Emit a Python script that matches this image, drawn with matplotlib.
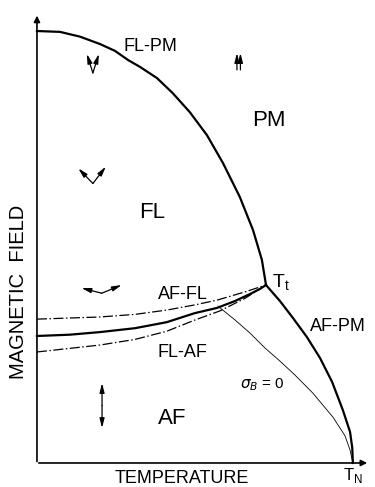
import matplotlib.pyplot as plt

# Phase diagram in reduced units: T / T_N on x, H / H_c(0) on y

# FL-PM boundary (from H axis down to the tricritical point T_t)
flpm_t = [0.0, 0.073, 0.136, 0.199, 0.247, 0.288, 0.326, 0.380, 0.430, 0.484,
          0.538, 0.589, 0.642, 0.684, 0.712, 0.725]
flpm_h = [1.0, 0.998, 0.987, 0.970, 0.954, 0.933, 0.917, 0.891, 0.856, 0.812,
          0.759, 0.694, 0.616, 0.539, 0.470, 0.412]

# AF-PM boundary (T_t down to T_N)
afpm_t = [0.725, 0.769, 0.810, 0.854, 0.896, 0.934, 0.968, 0.991, 0.998, 1.0]
afpm_h = [0.412, 0.375, 0.336, 0.292, 0.243, 0.188, 0.123, 0.072, 0.035, 0.0]

# first-order AF-FL line
affl_t = [0.0, 0.104, 0.199, 0.310, 0.411, 0.500, 0.570, 0.627, 0.674, 0.706, 0.725]
affl_h = [0.294, 0.297, 0.303, 0.312, 0.326, 0.347, 0.359, 0.375, 0.391, 0.403, 0.412]

# metastability limits
up_t = [0.0, 0.199, 0.310, 0.411, 0.500, 0.570, 0.658, 0.725]
up_h = [0.333, 0.338, 0.344, 0.354, 0.366, 0.377, 0.396, 0.412]
lo_t = [0.0, 0.199, 0.310, 0.411, 0.500, 0.579, 0.658, 0.725]
lo_h = [0.257, 0.273, 0.286, 0.305, 0.331, 0.352, 0.381, 0.412]

# sigma_B = 0 line
sb_t = [0.573, 0.627, 0.674, 0.722, 0.769, 0.816, 0.873, 0.937, 0.975, 0.991, 1.0]
sb_h = [0.363, 0.331, 0.301, 0.266, 0.236, 0.204, 0.162, 0.106, 0.063, 0.030, 0.0]

plt.rcParams['font.family'] = ['Liberation Sans', 'DejaVu Sans']

fig = plt.figure(figsize=(3.75, 4.87), dpi=100)
ax = fig.add_axes([0, 0, 1, 1])
ax.set_xlim(-0.117, 1.070)
ax.set_ylim(-0.0556, 1.0718)
ax.axis('off')

# axes with arrow heads
ax.annotate('', xy=(1.054, 0), xytext=(-0.003, 0),
            arrowprops=dict(arrowstyle='-|>', lw=1.2, color='black', mutation_scale=9))
ax.annotate('', xy=(0, 1.042), xytext=(0, -0.003),
            arrowprops=dict(arrowstyle='-|>', lw=1.2, color='black', mutation_scale=9))

ax.plot(flpm_t, flpm_h, color='black', lw=1.6, solid_joinstyle='round')
ax.plot(afpm_t, afpm_h, color='black', lw=1.6, solid_joinstyle='round')
ax.plot(affl_t, affl_h, color='black', lw=1.6, solid_joinstyle='round')
ax.plot(up_t, up_h, color='black', lw=0.9, dashes=(8, 2, 1.2, 2))
ax.plot(lo_t, lo_h, color='black', lw=0.9, dashes=(8, 2, 1.2, 2))
ax.plot(sb_t, sb_h, color='black', lw=0.6)

# spin arrangements
arr = dict(arrowstyle='-|>,head_length=0.7,head_width=0.18', lw=0.9,
           color='black', mutation_scale=8, shrinkA=0, shrinkB=0)
spins = [
    ((0.177, 0.903), (0.158, 0.947)), ((0.177, 0.903), (0.196, 0.947)),
    ((0.177, 0.647), (0.131, 0.682)), ((0.177, 0.647), (0.218, 0.686)),
    ((0.205, 0.393), (0.141, 0.405)), ((0.205, 0.393), (0.268, 0.412)),
    ((0.633, 0.910), (0.633, 0.949)), ((0.644, 0.910), (0.644, 0.949)),
    ((0.206, 0.133), (0.206, 0.185)), ((0.206, 0.133), (0.206, 0.081)),
]
for start, end in spins:
    ax.annotate('', xy=end, xytext=start, arrowprops=arr)

labels = [
    (0.358, 0.965, 'FL-PM', 13), (0.734, 0.794, 'PM', 16), (0.364, 0.581, 'FL', 16),
    (0.462, 0.391, 'AF-FL', 13), (0.459, 0.255, 'FL-AF', 13), (0.953, 0.317, 'AF-PM', 13),
    (0.427, 0.104, 'AF', 16),
]
for x, y, s, fs in labels:
    ax.text(x, y, s, fontsize=fs, ha='center', va='center')

ax.text(0.712, 0.181, r'$\sigma_B$ = 0', fontsize=11, ha='center', va='center')
ax.text(0.745, 0.417, r'T$_\mathregular{t}$', fontsize=14, ha='left', va='center')
ax.text(1.0, -0.030, r'T$_\mathregular{N}$', fontsize=12, ha='center', va='center')
ax.text(0.459, -0.035, 'TEMPERATURE', fontsize=13, ha='center', va='center')
ax.text(-0.060, 0.396, 'MAGNETIC  FIELD', fontsize=14.5, ha='center', va='center',
        rotation=90)

fig.savefig('out.png', dpi=100)
